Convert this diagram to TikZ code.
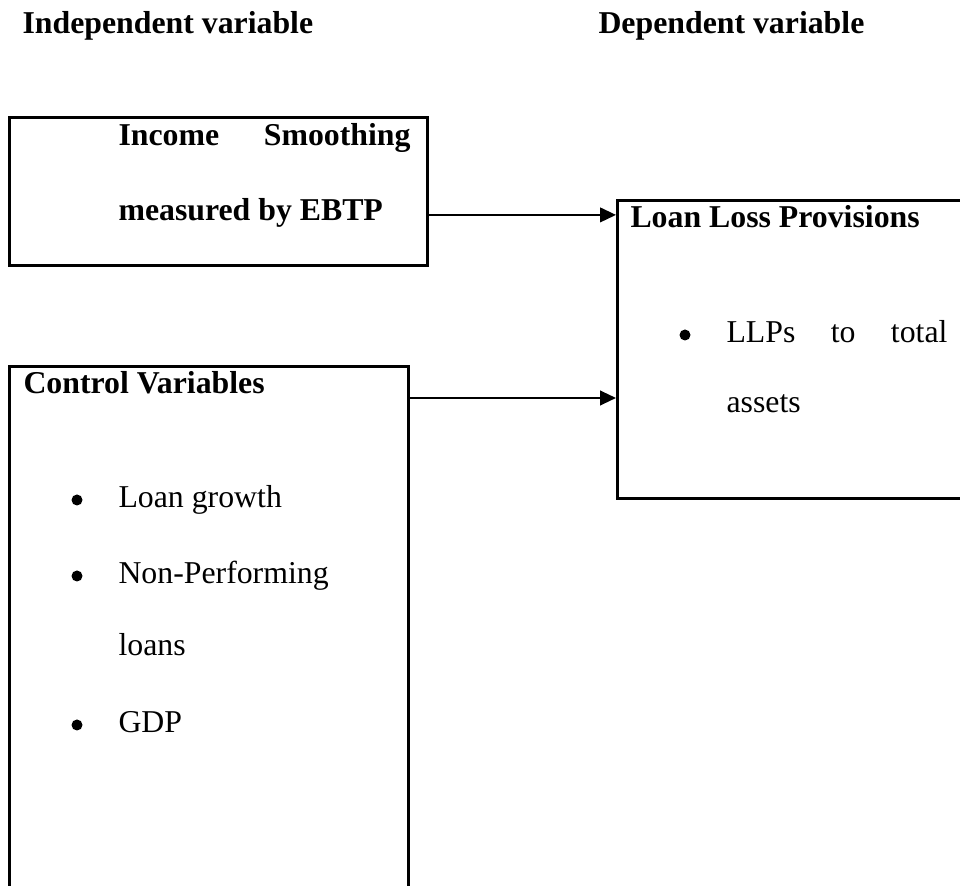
\documentclass[tikz,border=0pt]{standalone}
\usepackage{fontspec}
\setmainfont{Liberation Serif}
\usetikzlibrary{arrows.meta,positioning}

\newcommand{\pxu}{0.3774pt}

\begin{document}
\begin{tikzpicture}[
  x=\pxu, y=-\pxu,
  box/.style={draw=black, line width=1pt, anchor=north west, inner sep=0pt},
  head/.style={anchor=base west, inner sep=0pt, font=\fontsize{12}{14}\selectfont\bfseries},
  item/.style={anchor=base west, inner sep=0pt, font=\fontsize{12}{14}\selectfont},
  bul/.style={circle, fill=black, inner sep=0pt, minimum size=11*\pxu},
  link/.style={-{Triangle[length=6pt, width=5.5pt]}, line width=0.8pt}
]
\useasboundingbox (0,0) rectangle (960,886);
\clip (0,0) rectangle (960,886);

% Headings
\node[head] (indep) at (22,34) {Independent variable};
\node[head] (dep) at (598,34) {Dependent variable};

% Boxes
\node[box, minimum width=418*\pxu, minimum height=148*\pxu] (smooth) at (8,116) {};
\node[box, minimum width=360*\pxu, minimum height=298*\pxu] (llp) at (616,199) {};
\node[box, minimum width=399*\pxu, minimum height=540*\pxu] (ctrl) at (8,365) {};

% Income smoothing
\node[head] (inc) at (118,146) {\hbox to 110.2pt{Income\hfil Smoothing}};
\node[head] (ebtp) at (118,221) {measured by EBTP};

% Loan loss provisions
\node[head] (llptitle) at (630,228) {Loan Loss Provisions};
\node[bul] (llpdot) at (685,335) {};
\node[item] (llps) at (726,343) {\hbox to 83.4pt{LLPs\hfil to\hfil total}};
\node[item] (assets) at (726,413) {assets};

% Control variables
\node[head] (ctrltitle) at (23,394) {Control Variables};
\node[bul] (dot1) at (77,500) {};
\node[item] (growth) at (118,508) {Loan growth};
\node[bul] (dot2) at (77,576) {};
\node[item] (npl) at (118,584) {Non-Performing};
\node[item] (loans) at (118,656) {loans};
\node[bul] (dot3) at (77,725) {};
\node[item] (gdp) at (118,733) {GDP};

% Links
\coordinate (ctrlout) at (407,398);
\draw[link] (smooth.east |- ebtp.mid) -- (llp.west |- ebtp.mid);
\draw[link] (ctrlout) -- (llp.west |- ctrlout);

\end{tikzpicture}
\end{document}
